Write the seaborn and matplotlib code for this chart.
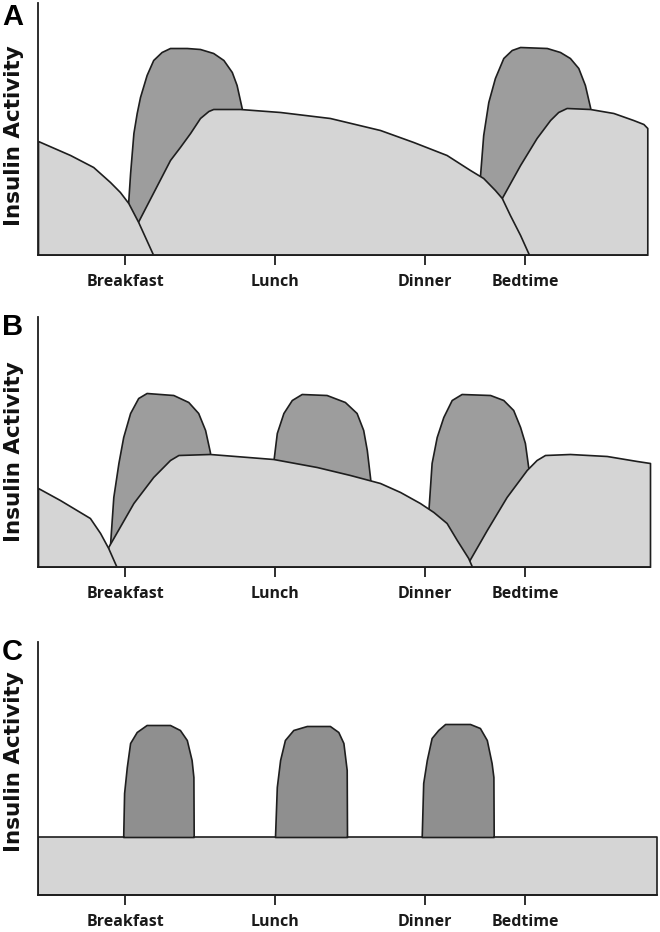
import numpy as np
import pandas as pd
import matplotlib
matplotlib.use("Agg")
import matplotlib.pyplot as plt
import seaborn as sns

# ---------------- data (time in hours, activity in arbitrary units) ----------------
meal_labels = ["Breakfast", "Lunch", "Dinner", "Bedtime"]
meal_hours = [7, 12, 17, 20.33]

# Panel A : two intermediate-acting injections + rapid-acting at breakfast & bedtime
A_prev_x = [4.1, 5.17, 5.94, 6.5, 6.83, 7.11, 7.44, 7.94]
A_prev_y = [114, 100, 88, 73, 63, 52, 33, 0]
A_int_x = [7.43, 8.5, 8.83, 9.17, 9.5, 9.78, 9.94, 10.83, 12.17, 13.83, 15.5, 16.61,
           17.72, 18.5, 18.94, 19.33, 19.56, 19.83, 20.17, 20.44, 20.47]
A_int_y = [33, 95, 108, 122, 137, 144, 146, 146, 143, 137, 125, 113,
           100, 85, 77, 65, 57, 40, 20, 2, 0]
A_night_x = [19.56, 20.17, 20.72, 21.17, 21.44, 21.72, 22.5, 23.28, 23.94, 24.28, 24.41]
A_night_y = [57, 90, 117, 135, 143, 147, 146, 142, 135, 131, 127]
A_rapid1_x = [7.1, 7.17, 7.28, 7.39, 7.5, 7.72, 7.94, 8.22, 8.5, 9.06, 9.5, 9.94,
              10.28, 10.56, 10.72, 10.89, 10.95]
A_rapid1_y = [50, 82, 122, 142, 158, 180, 195, 203, 207, 207, 206, 202,
              195, 183, 170, 147, 132]
A_rapid2_x = [18.83, 18.94, 19.11, 19.33, 19.61, 19.89, 20.17, 21.06, 21.5, 21.83,
              22.11, 22.33, 22.5, 22.6]
A_rapid2_y = [78, 120, 153, 177, 197, 205, 208, 207, 203, 197, 187, 170, 148, 130]

# Panel B : intermediate at breakfast & dinner, rapid-acting at 3 meals
B_prev_x = [4.1, 4.83, 5.83, 6.17, 6.44, 6.72]
B_prev_y = [79, 67, 49, 34, 19, 0]
B_int_x = [6.44, 7.28, 7.94, 8.5, 8.78, 9.83, 11.94, 13.39, 14.5, 15.5, 16.17, 16.83,
           17.28, 17.72, 18.06, 18.44, 18.57]
B_int_y = [20, 64, 90, 107, 112, 113, 108, 100, 92, 84, 75, 64, 55, 44, 27, 9, 0]
B_night_x = [18.37, 18.39, 19.06, 19.72, 20.39, 20.72, 21.0, 21.83, 23.06, 24.06, 24.5]
B_night_y = [0, 2, 37, 70, 97, 107, 112, 113, 111, 106, 104]
B_rapid1_x = [6.5, 6.61, 6.78, 6.94, 7.17, 7.44, 7.72, 8.61, 9.11, 9.44, 9.67, 9.83, 9.9]
B_rapid1_y = [22, 70, 104, 130, 154, 169, 174, 172, 165, 154, 137, 115, 97]
B_rapid2_x = [11.93, 12.06, 12.28, 12.56, 12.89, 13.72, 14.33, 14.72, 14.94, 15.06,
              15.17, 15.2]
B_rapid2_y = [102, 134, 154, 167, 173, 172, 165, 154, 137, 117, 89, 79]
B_rapid3_x = [17.11, 17.22, 17.39, 17.61, 17.89, 18.22, 19.17, 19.61, 19.94, 20.17,
              20.33, 20.44, 20.53]
B_rapid3_y = [55, 104, 130, 150, 167, 173, 172, 167, 157, 140, 124, 100, 89]

# Panel C : basal (flat) + rapid-acting at 3 meals
C_basal_x = [4.1, 24.73]
C_basal_y = [58, 58]
C_rapid1_x = [6.94, 6.97, 7.06, 7.17, 7.39, 7.72, 8.5, 8.83, 9.06, 9.22, 9.28, 9.29]
C_rapid1_y = [58, 102, 128, 152, 163, 170, 170, 165, 155, 135, 118, 58]
C_rapid2_x = [12.0, 12.06, 12.17, 12.33, 12.61, 13.06, 13.83, 14.11, 14.28, 14.39, 14.4]
C_rapid2_y = [58, 108, 135, 155, 165, 169, 169, 163, 152, 125, 58]
C_rapid3_x = [16.89, 16.94, 17.06, 17.22, 17.44, 17.67, 18.5, 18.83, 19.06, 19.22,
              19.28, 19.29]
C_rapid3_y = [58, 112, 135, 157, 165, 171, 171, 167, 155, 132, 118, 58]

# ---------------- style ----------------
sns.set_style("white")
plt.rcParams["font.family"] = ["Open Sans", "DejaVu Sans"]

LIGHT = "#d5d5d5"
DARK_AB = "#9d9d9d"
DARK_C = "#8f8f8f"
EDGE = "#1e1e1e"
LW = 1.2

W, H = 660, 932
fig = plt.figure(figsize=(W / 100, H / 100), dpi=100)

XMIN, XMAX = 4.1, 24.8


def make_axes(top_px, bottom_px, ymax, spine_end):
    ax = fig.add_axes([38 / W, 1 - bottom_px / H, (XMAX - XMIN) * 30 / W, (bottom_px - top_px) / H])
    ax.set_xlim(XMIN, XMAX)
    ax.set_ylim(0, ymax)
    sns.despine(ax=ax)
    for s in ("left", "bottom"):
        ax.spines[s].set_linewidth(1.3)
        ax.spines[s].set_color(EDGE)
        ax.spines[s].set_zorder(10)
    ax.spines["bottom"].set_bounds(XMIN, spine_end)
    ax.set_yticks([])
    ax.set_xticks(meal_hours, meal_labels)
    ax.tick_params(axis="x", bottom=True, length=7, width=1.3, color=EDGE,
                   direction="out", pad=7, labelsize=11.5)
    for t in ax.get_xticklabels():
        t.set_fontweight("bold")
        t.set_color("#1a1a1a")
    ax.patch.set_alpha(0)
    return ax


def shape(ax, x, y, color, z, base=0):
    df = pd.DataFrame({"x": x, "y": y})
    ax.fill_between(df["x"], df["y"], base, facecolor=color, edgecolor=EDGE,
                    linewidth=LW, zorder=z, joinstyle="round")


# Panel A
axA = make_axes(3, 255, 252, 24.41)
shape(axA, A_rapid1_x, A_rapid1_y, DARK_AB, 1.0)
shape(axA, A_rapid2_x, A_rapid2_y, DARK_AB, 1.0)
shape(axA, A_night_x, A_night_y, LIGHT, 1.1)
shape(axA, A_int_x, A_int_y, LIGHT, 1.2)
shape(axA, A_prev_x, A_prev_y, LIGHT, 1.3)

# Panel B
axB = make_axes(317, 567, 250, 24.5)
shape(axB, B_rapid1_x, B_rapid1_y, DARK_AB, 1.0)
shape(axB, B_rapid2_x, B_rapid2_y, DARK_AB, 1.0)
shape(axB, B_rapid3_x, B_rapid3_y, DARK_AB, 1.0)
shape(axB, B_night_x, B_night_y, LIGHT, 1.1)
shape(axB, B_int_x, B_int_y, LIGHT, 1.2)
shape(axB, B_prev_x, B_prev_y, LIGHT, 1.3)

# Panel C
axC = make_axes(642, 895, 253, 24.73)
shape(axC, C_basal_x, C_basal_y, LIGHT, 1.0)
shape(axC, C_rapid1_x, C_rapid1_y, DARK_C, 1.1, base=58)
shape(axC, C_rapid2_x, C_rapid2_y, DARK_C, 1.1, base=58)
shape(axC, C_rapid3_x, C_rapid3_y, DARK_C, 1.1, base=58)

# Panel letters and y labels
for letter, top_px, label_center in (("A", 3, 136), ("B", 313, 452), ("C", 638, 762)):
    fig.text(2 / W, 1 - top_px / H, letter, ha="left", va="top", fontsize=21,
             fontweight="bold", family=["Liberation Sans", "DejaVu Sans"], color="black")
    fig.text(14 / W, 1 - label_center / H, "Insulin Activity", rotation=90,
             ha="center", va="center", fontsize=15.5, fontweight="bold",
             family=["DejaVu Sans"], color="#111111")

fig.savefig("out.png", dpi=100)
